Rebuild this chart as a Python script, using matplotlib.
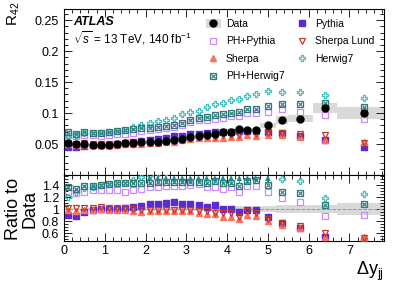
import numpy as np
import matplotlib
matplotlib.use('Agg')
import matplotlib.pyplot as plt
from matplotlib.patches import Rectangle
from matplotlib.lines import Line2D
from matplotlib.ticker import MultipleLocator, FixedLocator
from matplotlib.legend_handler import HandlerTuple

plt.rcParams['font.family'] = ['Liberation Sans', 'DejaVu Sans']
plt.rcParams['mathtext.fontset'] = 'custom'
plt.rcParams['mathtext.rm'] = 'Liberation Sans'
plt.rcParams['mathtext.it'] = 'Liberation Sans:italic'
plt.rcParams['mathtext.bf'] = 'Liberation Sans:bold'

# ---------------- data ----------------
bin_edges = [0.0, 0.2, 0.4, 0.6, 0.8, 1.0, 1.2, 1.4, 1.6, 1.8, 2.0, 2.2, 2.4, 2.6,
             2.8, 3.0, 3.2, 3.4, 3.6, 3.8, 4.0, 4.2, 4.4, 4.6, 4.8, 5.2, 5.5, 6.1,
             6.7, 8.0]

data = [0.051, 0.050, 0.050, 0.049, 0.048, 0.049, 0.050, 0.051, 0.052, 0.053,
        0.053, 0.054, 0.055, 0.056, 0.058, 0.061, 0.063, 0.065, 0.066, 0.069,
        0.070, 0.074, 0.072, 0.072, 0.080, 0.089, 0.091, 0.108, 0.100]
data_err = [0.0012, 0.0012, 0.0012, 0.0012, 0.0012, 0.0012, 0.0012, 0.0013, 0.0013,
            0.0014, 0.0015, 0.0016, 0.0017, 0.0018, 0.0019, 0.0020, 0.0021, 0.0023,
            0.0025, 0.0027, 0.0030, 0.0033, 0.0036, 0.0040, 0.0045, 0.0065, 0.0060,
            0.0075, 0.0095]

pythia_ratio = [0.90, 0.89, 0.95, 0.98, 1.00, 1.00, 1.00, 1.01, 1.03, 1.05,
                1.08, 1.09, 1.10, 1.11, 1.09, 1.08, 1.06, 1.04, 1.06, 1.00,
                1.00, 0.95, 0.98, 0.98, 0.87, 0.76, 0.69, 0.53, 0.46]
phpythia_ratio = [1.29, 1.27, 1.29, 1.31, 1.32, 1.31, 1.31, 1.29, 1.31, 1.33,
                  1.36, 1.37, 1.38, 1.39, 1.39, 1.40, 1.42, 1.36, 1.37, 1.33,
                  1.37, 1.28, 1.39, 1.39, 1.28, 1.19, 1.12, 0.89, 0.90]
sherpa_ratio = [0.99, 0.97, 0.98, 0.99, 1.00, 0.98, 0.98, 0.98, 0.97, 0.95,
                0.97, 0.97, 0.97, 0.96, 0.97, 0.96, 0.94, 0.92, 0.91, 0.87,
                0.87, 0.83, 0.90, 0.88, 0.80, 0.73, 0.68, 0.53, 0.53]
sherpalund_ratio = [1.02, 1.01, 1.02, 1.02, 1.03, 1.01, 1.01, 1.01, 1.00, 0.99,
                    0.99, 0.99, 0.99, 0.98, 0.99, 0.98, 0.97, 0.96, 0.94, 0.93,
                    0.93, 0.87, 0.96, 0.93, 0.84, 0.77, 0.72, 0.60, 0.51]
herwig7_ratio = [1.20, 1.29, 1.35, 1.37, 1.40, 1.41, 1.43, 1.44, 1.49, 1.53,
                 1.57, 1.60, 1.62, 1.64, 1.70, 1.67, 1.65, 1.69, 1.74, 1.69,
                 1.72, 1.66, 1.78, 1.81, 1.70, 1.50, 1.47, 1.19, 1.25]
phherwig7_ratio = [1.37, 1.34, 1.38, 1.38, 1.40, 1.41, 1.43, 1.43, 1.44, 1.44,
                   1.44, 1.45, 1.45, 1.45, 1.45, 1.45, 1.45, 1.44, 1.47, 1.43,
                   1.44, 1.38, 1.47, 1.49, 1.40, 1.28, 1.26, 1.07, 1.09]

x_ticks = [0, 1, 2, 3, 4, 5, 6, 7]
main_yticks = [0.05, 0.1, 0.15, 0.2, 0.25]
main_yticklabels = ['0.05', '0.1', '0.15', '0.2', '0.25']
ratio_yticks = [0.6, 0.8, 1.0, 1.2, 1.4]
ratio_yticklabels = ['0.6', '0.8', '1', '1.2', '1.4']

# ---------------- derived ----------------
edges = np.array(bin_edges)
centers = 0.5 * (edges[:-1] + edges[1:])
widths = edges[1:] - edges[:-1]
d = np.array(data)
de = np.array(data_err)

series = [
    ('Pythia', np.array(pythia_ratio), dict(marker='s', ms=4.3, color='#5a2bd4', mec='#5a2bd4', mfc='#5a2bd4', ls='none')),
    ('PH+Pythia', np.array(phpythia_ratio), dict(marker='s', ms=4.5, mec='#cc88ff', mfc='none', mew=0.9, ls='none')),
    ('Sherpa', np.array(sherpa_ratio), dict(marker='^', ms=4.5, color='#ff6f5e', mec='#ff6f5e', mfc='#ff6f5e', ls='none')),
    ('Sherpa Lund', np.array(sherpalund_ratio), dict(marker='v', ms=4.5, mec='#c0392b', mfc='none', mew=0.9, ls='none')),
    ('Herwig7', np.array(herwig7_ratio), dict(marker='P', ms=4.5, mec='#3bbfbf', mfc='none', mew=0.9, ls='none')),
    ('PH+Herwig7', np.array(phherwig7_ratio), dict(marker='s', ms=4.5, mec='#2d7a7a', mfc='none', mew=0.9, ls='none')),
]

W, H = 407, 292
fig = plt.figure(figsize=(W / 100, H / 100), dpi=100)
L, R = 64, 384
ax = fig.add_axes([L / W, 1 - 175 / H, (R - L) / W, (175 - 9) / H])
rx = fig.add_axes([L / W, 1 - 241 / H, (R - L) / W, (241 - 175) / H], sharex=ax)

band_col = '#d9d9d9'
# main panel
ax.bar(centers, 2 * de, bottom=d - de, width=widths, color=band_col, lw=0, zorder=1)
handles = {}
for name, rat, st in series:
    vals = d * rat
    ln, = ax.plot(centers, vals, zorder=3, **st)
    if name == 'PH+Herwig7':
        lx, = ax.plot(centers, vals, marker='x', ms=3.0, mec='#2d7a7a', mew=0.8, ls='none', zorder=3)
        handles[name] = (ln, lx)
    else:
        handles[name] = ln
dl, = ax.plot(centers, d, 'o', color='k', ms=5, zorder=5)
handles['Data'] = (Rectangle((0, 0), 1, 1, color=band_col, lw=0), dl)

# ratio panel
ylo, yhi = 0.467, 1.567
rel = de / d
rx.bar(centers, 2 * rel, bottom=1 - rel, width=widths, color=band_col, lw=0, zorder=1)
rx.axhline(1.0, color='#999999', ls='--', lw=0.7, zorder=2)
for name, rat, st in series:
    rx.plot(centers, rat, zorder=3, **st)
    if name == 'PH+Herwig7':
        rx.plot(centers, rat, marker='x', ms=3.0, mec='#2d7a7a', mew=0.8, ls='none', zorder=3)
# out-of-range arrows for Herwig7
h7 = np.array(herwig7_ratio)
over = h7 > yhi
for xc in centers[over]:
    rx.annotate('', xy=(xc, yhi - 0.005), xytext=(xc, yhi - 0.14),
                arrowprops=dict(arrowstyle='-|>', color='#1a8c8c', lw=0.8,
                                mutation_scale=7, shrinkA=0, shrinkB=0), zorder=4)

# axes styling
for a in (ax, rx):
    a.set_xlim(0, 7.85)
    a.xaxis.set_major_locator(FixedLocator(x_ticks))
    a.xaxis.set_minor_locator(MultipleLocator(0.2))
    a.tick_params(which='both', direction='in', top=True, right=True, width=0.6)
    a.tick_params(which='major', length=5.5, labelsize=9)
    a.tick_params(which='minor', length=3)
    for s in a.spines.values():
        s.set_linewidth(0.8)

ax.set_ylim(0, 0.268)
ax.set_yticks(main_yticks)
ax.set_yticklabels(main_yticklabels)
ax.yaxis.set_minor_locator(MultipleLocator(0.01))
ax.tick_params(labelbottom=False)

rx.set_ylim(ylo, yhi)
rx.set_yticks(ratio_yticks)
rx.set_yticklabels(ratio_yticklabels)
rx.yaxis.set_minor_locator(MultipleLocator(0.05))
rx.tick_params(axis='x', pad=3)

# labels
fig.text(14 / W, 1 - 2 / H, r'R$_{42}$', rotation=90, va='top', ha='center', fontsize=11)
fig.text(22 / W, 1 - 209 / H, 'Ratio to\nData', rotation=90, va='center', ha='center',
         fontsize=13, linespacing=0.95, multialignment='center')
rx.set_xlabel(r'$\Delta$y$_{\rm jj}$', loc='right', fontsize=13, labelpad=2)

ax.text(0.028, 0.922, 'ATLAS', transform=ax.transAxes, fontsize=9, fontweight='bold',
        fontstyle='italic', va='center', ha='left')
ax.text(0.028, 0.826, r'$\sqrt{s}$ = 13 TeV, 140 fb$^{-1}$', transform=ax.transAxes,
        fontsize=8.5, va='center', ha='left')

order = ['Data', 'PH+Pythia', 'Sherpa', 'PH+Herwig7', 'Pythia', 'Sherpa Lund', 'Herwig7']
ax.legend([handles[k] for k in order], order, ncol=2, loc='upper left',
          bbox_to_anchor=((206 - L) / (R - L), (175 - 19) / 166), frameon=False,
          fontsize=7.5, handlelength=1.4, handleheight=0.9, handletextpad=0.5,
          columnspacing=1.0, labelspacing=0.72, borderaxespad=0, borderpad=0,
          handler_map={tuple: HandlerTuple(ndivide=1, pad=0)})

fig.savefig('out.png', dpi=100)
